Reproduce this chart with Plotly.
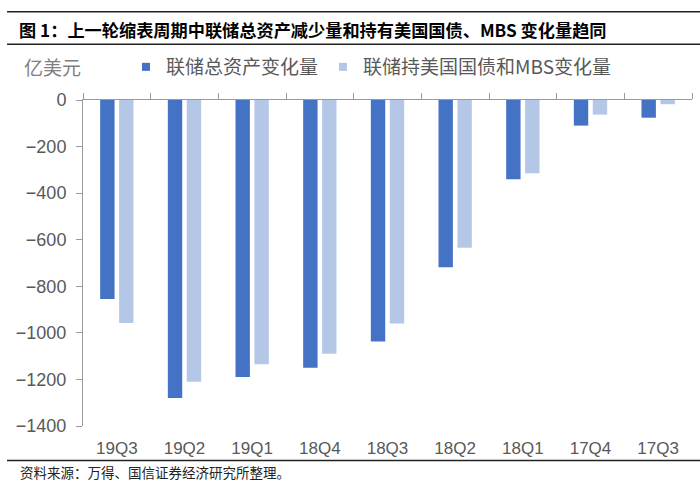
import plotly.graph_objects as go

quarters = ["19Q3", "19Q2", "19Q1", "18Q4", "18Q3", "18Q2", "18Q1", "17Q4", "17Q3"]
total_assets_change = [-855, -1280, -1190, -1150, -1037, -718, -340, -110, -76]
tsy_mbs_change = [-958, -1210, -1135, -1090, -960, -634, -315, -63, -18]
series_names = ["联储总资产变化量", "联储持美国国债和MBS变化量"]
series_colors = ["#4472C4", "#B4C7E7"]
y_ticks = [0, -200, -400, -600, -800, -1000, -1200, -1400]

W_FIG, H_FIG = 700, 491
L, R, T, B = 83, 8, 100, 65
PW = W_FIG - L - R
PH = H_FIG - T - B


def px_x(px):
    return (px - L) / PW


def px_y(py):
    return (T + PH - py) / PH


CJK = "Noto Sans CJK SC"
NUM = "Liberation Sans, Arial"
GRAY = "#595959"
AXIS = "#9a9a9a"

fig = go.Figure()
for name, vals, col in zip(series_names, [total_assets_change, tsy_mbs_change], series_colors):
    fig.add_trace(go.Bar(x=quarters, y=vals, name=name, legendgroup=name,
                         showlegend=False, marker=dict(color=col, line=dict(width=0))))
# legend entries with small square swatches (same groups as the bars)
for name, col in zip(series_names, series_colors):
    fig.add_trace(go.Scatter(x=[None], y=[None], name=name, legendgroup=name,
                             mode="markers", hoverinfo="skip",
                             marker=dict(symbol="square", size=8, color=col)))
# helper trace so the top (zero-line) axis knows the categories
fig.add_trace(go.Scatter(x=quarters, y=[None] * len(quarters), xaxis="x2",
                         showlegend=False, hoverinfo="skip", mode="markers"))

fig.update_layout(
    width=W_FIG, height=H_FIG,
    margin=dict(l=L, r=R, t=T, b=B),
    paper_bgcolor="white", plot_bgcolor="white",
    barmode="group", bargap=0.44, bargroupgap=0.24,
    title=dict(text="<b>图 1：上一轮缩表周期中联储总资产减少量和持有美国国债、MBS 变化量趋同</b>",
               font=dict(family=CJK, size=17.2, color="black"),
               x=19 / W_FIG, xref="container", xanchor="left",
               y=1 - 30.7 / H_FIG, yref="container", yanchor="middle"),
    xaxis=dict(type="category", categoryorder="array", categoryarray=quarters,
               range=[-0.5, len(quarters) - 0.5],
               showline=False, ticks="", showgrid=False, zeroline=False,
               tickfont=dict(family=NUM, size=17, color=GRAY),
               ticklabelstandoff=10),
    xaxis2=dict(type="category", categoryorder="array", categoryarray=quarters,
                range=[-0.5, len(quarters) - 0.5],
                overlaying="x", side="top", anchor="y",
                showline=True, linecolor=AXIS, linewidth=1,
                ticks="outside", tickson="boundaries", ticklen=6, tickcolor=AXIS,
                showticklabels=False, showgrid=False, zeroline=False),
    yaxis=dict(range=[-1400, 0], tickvals=y_ticks,
               showline=True, linecolor=AXIS, linewidth=1,
               ticks="outside", ticklen=6, tickcolor=AXIS,
               showgrid=False, zeroline=False,
               tickfont=dict(family=NUM, size=18, color=GRAY),
               ticklabelstandoff=6),
    legend=dict(orientation="h", x=px_x(126), xanchor="left",
                y=px_y(67), yanchor="middle",
                font=dict(family=CJK, size=19, color=GRAY),
                bgcolor="rgba(0,0,0,0)", borderwidth=0,
                itemwidth=30, traceorder="normal"),
    showlegend=True,
)

fig.add_annotation(text="亿美元", x=px_x(22), y=px_y(66.7), xref="paper", yref="paper",
                   xanchor="left", yanchor="middle", showarrow=False,
                   font=dict(family=CJK, size=19, color="#7f7f7f"))
fig.add_annotation(text="资料来源：万得、国信证券经济研究所整理。", x=px_x(18), y=px_y(471.7),
                   xref="paper", yref="paper", xanchor="left", yanchor="middle",
                   showarrow=False, font=dict(family=CJK, size=13.5, color="#222222"))

for ly in (11.7, 44.3, 460.5):
    fig.add_shape(type="line", xref="paper", yref="paper",
                  x0=px_x(7), x1=px_x(700), y0=px_y(ly), y1=px_y(ly),
                  line=dict(color="#222222", width=1.5))

fig.write_html("out.html", config={"displayModeBar": False},
               post_script="document.body.style.margin='0';")
